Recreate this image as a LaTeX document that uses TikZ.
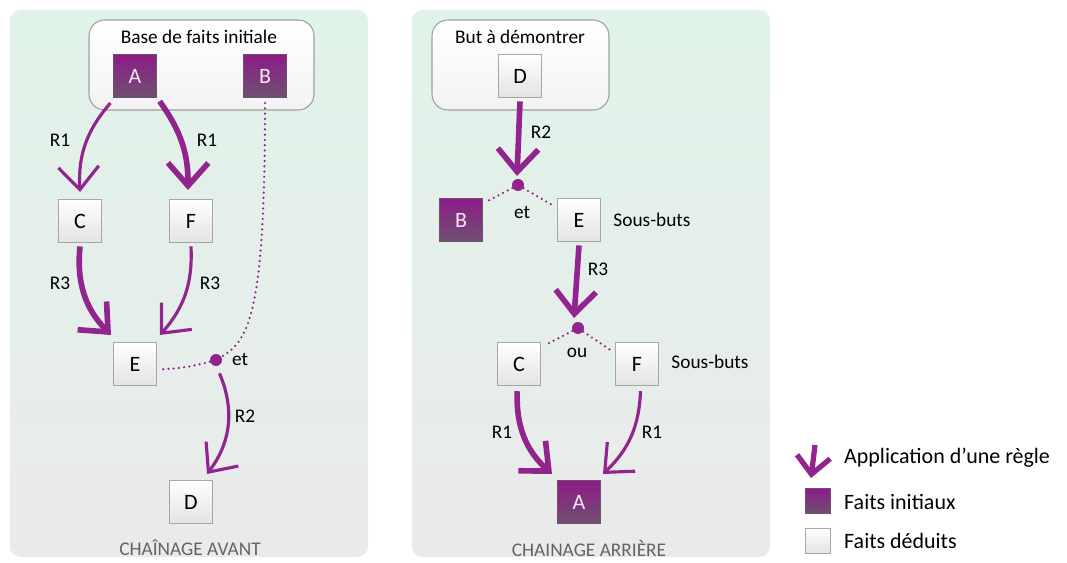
\documentclass[tikz,border=0pt]{standalone}
\usepackage{fontspec}
\setmainfont{Carlito}
\usetikzlibrary{arrows.meta}

\definecolor{violetregle}{RGB}{146,36,142}
\definecolor{violethaut}{RGB}{140,28,136}
\definecolor{violetbas}{RGB}{112,80,112}
\definecolor{fondhaut}{RGB}{224,243,233}
\definecolor{fondbas}{RGB}{234,234,234}
\definecolor{titregris}{RGB}{100,100,100}

\begin{document}
\begin{tikzpicture}[
    x=0.02cm, y=-0.02cm,
    panneau/.style={rounded corners=6pt, top color=fondhaut, bottom color=fondbas},
    base/.style={draw=gray!75, line width=0.6pt, rounded corners=9pt, top color=white, bottom color=gray!10, inner sep=0pt},
    initial/.style={minimum size=0.86cm, inner sep=0pt, top color=violethaut, bottom color=violetbas, draw=violetbas, line width=0.3pt, text=white!90!violethaut, font=\fontsize{12.5}{15}\selectfont},
    deduit/.style={minimum size=0.86cm, inner sep=0pt, top color=white, bottom color=gray!22, draw=gray!70, line width=0.5pt, font=\fontsize{12.5}{15}\selectfont},
    lbl/.style={font=\fontsize{11}{13}\selectfont},
    legende/.style={anchor=west, font=\fontsize{12.5}{15}\selectfont},
    chaine/.style={text=titregris, font=\fontsize{11}{13}\selectfont},
    jonction/.style={circle, fill=violetregle, inner sep=0pt, minimum size=0.24cm},
    lien/.style={violetregle, line width=1.4pt, line cap=round, dash pattern=on 0pt off 3pt},
    regle/.style={violetregle, line width=#1, -{Straight Barb[length=13pt, width=23pt]}},
  ]
  \useasboundingbox (0,0) rectangle (1067,563);

  \shade[panneau] (10,10) rectangle (368,557);
  \shade[panneau] (412,10) rectangle (770,557);

  \node (baseG) [base, minimum width=4.5cm, minimum height=1.8cm] at (201.5,65) {};
  \node (titreG) [lbl] at (199,37) {Base de faits initiale};
  \node (aG) [initial] at (135,76) {A};
  \node (bG) [initial] at (265,76) {B};
  \node (cG) [deduit] at (80,221) {C};
  \node (fG) [deduit] at (191,221) {F};
  \node (eG) [deduit] at (135,364) {E};
  \node (dG) [deduit] at (191,502) {D};
  \node (etG) [jonction] at (216,360) {};
  \coordinate (pointeCG) at (80,192);
  \coordinate (pointeFG) at (188,190);
  \coordinate (pointeE1) at (111,335);
  \coordinate (pointeE2) at (160,335);
  \coordinate (pointeDG) at (207,474);

  \draw[regle=1.8pt] ([xshift=-14pt,yshift=-3pt]aG.south) to[bend right=22] (pointeCG);
  \draw[regle=3.2pt] ([xshift=14pt,yshift=-2pt]aG.south) to[bend left=18] (pointeFG);
  \draw[regle=3.2pt] ([yshift=-2pt]cG.south) to[bend right=25] (pointeE1);
  \draw[regle=1.8pt] ([yshift=-2pt]fG.south) to[bend left=22] (pointeE2);
  \draw[regle=1.8pt] ([xshift=2pt,yshift=-4pt]etG.south) to[bend left=30] (pointeDG);
  \draw[lien] ([yshift=-3pt]bG.south) .. controls (265,310) and (250,340) .. (etG);
  \draw[lien] (etG) to[bend left=6] ([xshift=3pt,yshift=-3pt]eG.east);

  \node (r1aG) [lbl] at (60,140) {R1};
  \node (r1bG) [lbl] at (207,140) {R1};
  \node (r3aG) [lbl] at (60,283) {R3};
  \node (r3bG) [lbl] at (210,283) {R3};
  \node (r2G) [lbl] at (245,416) {R2};
  \node (etTexteG) [lbl] at (240,359) {et};
  \node (avant) [chaine] at (190,548) {CHAÎNAGE AVANT};

  \node (butD) [base, minimum width=3.54cm, minimum height=1.8cm] at (520.5,65) {};
  \node (titreD) [lbl] at (520,37) {But à démontrer};
  \node (dD) [deduit] at (520,76) {D};
  \node (etD) [jonction] at (518,185) {};
  \node (bD) [initial] at (461,220) {B};
  \node (eD) [deduit] at (579,220) {E};
  \node (ouD) [jonction] at (578,328) {};
  \node (cD) [deduit] at (519,364) {C};
  \node (fD) [deduit] at (637,364) {F};
  \node (aD) [initial] at (579,502) {A};
  \coordinate (pointeEtD) at (517,176);
  \coordinate (pointeOuD) at (574,318);
  \coordinate (pointeA1) at (552,474);
  \coordinate (pointeA2) at (603,474);

  \draw[regle=3.2pt] ([yshift=-2pt]dD.south) -- (pointeEtD);
  \draw[regle=3.2pt] ([yshift=-2pt]eD.south) -- (pointeOuD);
  \draw[regle=3.2pt] ([xshift=-1pt,yshift=-3pt]cD.south) to[bend right=25] (pointeA1);
  \draw[regle=1.8pt] ([xshift=2pt,yshift=-3pt]fD.south) to[bend left=22] (pointeA2);
  \draw[lien] (etD) -- ([xshift=2pt,yshift=-2pt]bD.north east);
  \draw[lien] (etD) -- ([xshift=-1pt,yshift=-5pt]eD.north west);
  \draw[lien] (ouD) -- ([xshift=2pt,yshift=-2pt]cD.north east);
  \draw[lien] (ouD) -- ([xshift=-2pt,yshift=-5pt]fD.north west);

  \node (r2D) [lbl] at (541,132) {R2};
  \node (r3D) [lbl] at (598,269) {R3};
  \node (r1aD) [lbl] at (502,432) {R1};
  \node (r1bD) [lbl] at (652,432) {R1};
  \node (etTexteD) [lbl] at (522,212) {et};
  \node (ouTexte) [lbl] at (577,353) {ou};
  \node (sousButs1) [lbl] at (652,220) {Sous-buts};
  \node (sousButs2) [lbl] at (710,362) {Sous-buts};
  \node (arriere) [chaine] at (589,548) {CHAINAGE ARRIÈRE};

  \coordinate (legHaut) at (815,445);
  \coordinate (legBas) at (811,478);
  \draw[violetregle, line width=3pt, -{Straight Barb[length=10pt, width=19pt]}] (legHaut) -- (legBas);
  \node (legInitial) [initial, minimum size=0.5cm] at (817.5,501) {};
  \node (legDeduit) [deduit, minimum size=0.5cm] at (817.5,541) {};
  \node (txtRegle) [legende] at (838,458) {Application d’une règle};
  \node (txtInitial) [legende] at (838,502) {Faits initiaux};
  \node (txtDeduit) [legende] at (838,541) {Faits déduits};
\end{tikzpicture}
\end{document}
